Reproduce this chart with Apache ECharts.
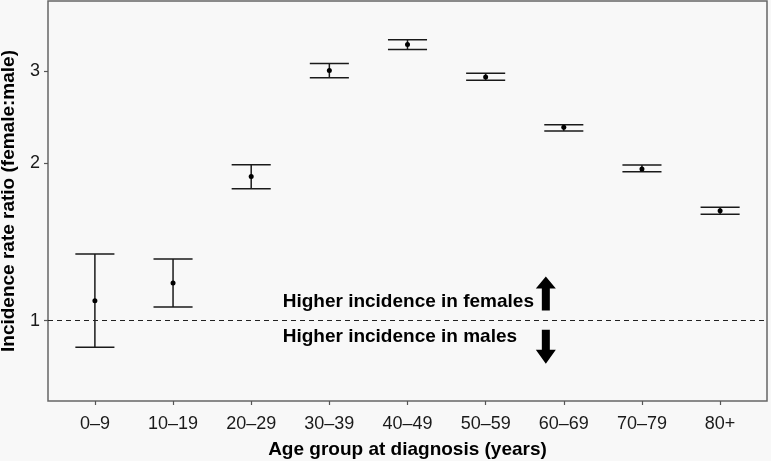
<!DOCTYPE html>
<html>
<head>
<meta charset="utf-8">
<script src="https://cdn.jsdelivr.net/npm/echarts@6/dist/echarts.min.js"></script>
<style>
html,body{margin:0;padding:0;background:#f8f8f8;}
#chart{width:771px;height:461px;}
</style>
</head>
<body>
<div id="chart"></div>
<script>
const categories = ['0\u20139','10\u201319','20\u201329','30\u201339','40\u201349','50\u201359','60\u201369','70\u201379','80+'];
const ratio = [1.092, 1.181, 1.888, 3.010, 3.376, 2.927, 2.344, 1.951, 1.623];
const lower = [0.890, 1.062, 1.788, 2.915, 3.302, 2.884, 2.307, 1.928, 1.599];
const upper = [1.342, 1.313, 1.988, 3.104, 3.447, 2.974, 2.372, 1.985, 1.649];
const yTicks = [1, 2, 3];
const xPositions = categories.map((c, i) => i + 1);

const FONT = '"Liberation Sans", Arial, Helvetica, sans-serif';
const chart = echarts.init(document.getElementById('chart'));

const errData = categories.map((c, i) => [xPositions[i], lower[i], upper[i]]);
const ptData = categories.map((c, i) => [xPositions[i], ratio[i]]);

const upArrow = 'path://M10 0 L20 12 L14 12 L14 34 L6 34 L6 12 L0 12 Z';
const downArrow = 'path://M6 0 L14 0 L14 20 L20 20 L10 34 L0 20 L6 20 Z';

chart.setOption({
  backgroundColor: '#f8f8f8',
  animation: false,
  grid: {
    left: 48, top: 1, right: 4, bottom: 60,
    outerBoundsMode: 'none', containLabel: false,
    show: true, backgroundColor: '#f8f8f8',
    borderColor: '#666', borderWidth: 1.5
  },
  xAxis: {
    type: 'value', min: 0.4, max: 9.6,
    name: 'Age group at diagnosis (years)',
    nameLocation: 'middle', nameGap: 39,
    nameTextStyle: { fontFamily: FONT, fontSize: 19, fontWeight: 'bold', color: '#000' },
    axisLine: { show: false },
    splitLine: { show: false },
    axisTick: { show: true, length: 4, lineStyle: { color: '#555', width: 1.2 }, customValues: xPositions },
    axisLabel: {
      customValues: xPositions, margin: 14,
      fontFamily: FONT, fontSize: 18, color: '#1a1a1a',
      formatter: v => categories[Math.round(v) - 1] || ''
    }
  },
  yAxis: {
    type: 'log', logBase: 10, min: 0.702, max: 4.09,
    name: 'Incidence rate ratio (female:male)',
    nameLocation: 'middle', nameGap: 30,
    nameTextStyle: { fontFamily: FONT, fontSize: 19, fontWeight: 'bold', color: '#000' },
    axisLine: { show: false },
    splitLine: { show: false },
    axisTick: { show: true, length: 4, lineStyle: { color: '#555', width: 1.2 }, customValues: yTicks },
    axisLabel: {
      customValues: yTicks, margin: 8,
      fontFamily: FONT, fontSize: 18, color: '#1a1a1a',
      formatter: v => String(Math.round(v))
    }
  },
  series: [
    {
      type: 'custom',
      data: errData,
      encode: { x: 0, y: [1, 2] },
      renderItem: function (params, api) {
        const x = api.value(0), lo = api.value(1), hi = api.value(2);
        const pLo = api.coord([x, lo]);
        const pHi = api.coord([x, hi]);
        const pLoL = api.coord([x - 0.25, lo]);
        const pLoR = api.coord([x + 0.25, lo]);
        const pHiL = api.coord([x - 0.25, hi]);
        const pHiR = api.coord([x + 0.25, hi]);
        const st = { stroke: '#1a1a1a', lineWidth: 1.5 };
        return {
          type: 'group',
          children: [
            { type: 'line', shape: { x1: pLo[0], y1: pLo[1], x2: pHi[0], y2: pHi[1] }, style: st },
            { type: 'line', shape: { x1: pLoL[0], y1: pLoL[1], x2: pLoR[0], y2: pLoR[1] }, style: st },
            { type: 'line', shape: { x1: pHiL[0], y1: pHiL[1], x2: pHiR[0], y2: pHiR[1] }, style: st }
          ]
        };
      },
      z: 2
    },
    {
      type: 'scatter',
      data: ptData,
      symbol: 'circle', symbolSize: 5,
      itemStyle: { color: '#000', opacity: 1 },
      z: 3,
      markLine: {
        silent: true, symbol: 'none',
        label: { show: false },
        lineStyle: { color: '#222', width: 1, type: [5, 4], opacity: 1 },
        data: [{ yAxis: 1 }]
      }
    },
    {
      type: 'scatter',
      symbolSize: 1,
      itemStyle: { color: 'rgba(0,0,0,0)', opacity: 1 },
      silent: true,
      label: {
        show: true, position: 'inside', align: 'left', verticalAlign: 'middle',
        fontFamily: FONT, fontSize: 19, fontWeight: 'bold', color: '#000', opacity: 1,
        formatter: p => p.data.text
      },
      data: [
        { value: [3.403, 1.087], text: 'Higher incidence in females' },
        { value: [3.403, 0.932], text: 'Higher incidence in males' }
      ]
    },
    {
      type: 'scatter',
      silent: true,
      symbolSize: [20, 34],
      itemStyle: { color: '#000', opacity: 1 },
      data: [
        { value: [6.77, 1.127], symbol: upArrow },
        { value: [6.77, 0.892], symbol: downArrow }
      ]
    }
  ]
});
</script>
</body>
</html>
